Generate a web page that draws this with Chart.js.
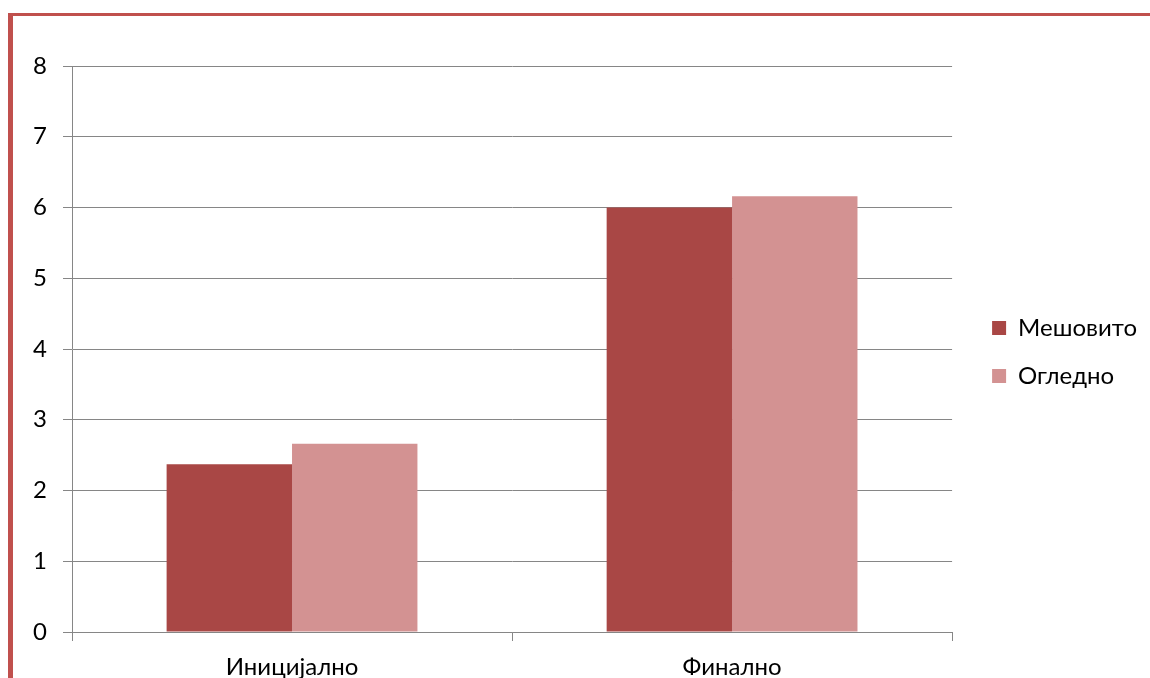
<!DOCTYPE html>
<html>
<head>
<meta charset="utf-8">
<script src="https://cdn.jsdelivr.net/npm/chart.js@4/dist/chart.umd.min.js"></script>
<style>
    html, body { margin: 0; padding: 0; background: #fff; overflow: hidden; }
    #frame {
        position: absolute; left: 8px; top: 13px;
        width: 1137px; height: 662px;
        border-left: 5px solid #c0504d;
        border-top: 3px solid #c0504d;
    }
    #chart { display: block; }
</style>
</head>
<body>
<div id="frame"><canvas id="chart" width="1137" height="662"></canvas></div>
<script>
// データ
const categories = ['Иницијално', 'Финално'];
const mixedValues = [2.37, 6.0];      // Мешовито
const modelValues = [2.66, 6.16];     // Огледно
const yTicks = [0, 1, 2, 3, 4, 5, 6, 7, 8];

const font = { family: 'Lato, "Noto Sans", sans-serif', size: 24 };
const gridColor = '#868686';

// 凡例の位置調整
const legendShift = {
    id: 'legendShift',
    afterLayout(chart) {
        const lg = chart.legend;
        lg.top -= 20;
        lg.bottom -= 20;
        lg.left += 16;
        lg.right += 16;
    }
};

new Chart(document.getElementById('chart').getContext('2d'), {
    type: 'bar',
    data: {
        labels: categories,
        datasets: [
            {
                label: 'Мешовито',
                data: mixedValues,
                backgroundColor: '#a94745',
                borderWidth: 0
            },
            {
                label: 'Огледно',
                data: modelValues,
                backgroundColor: '#d39292',
                borderWidth: 0
            }
        ]
    },
    options: {
        responsive: false,
        animation: false,
        categoryPercentage: 0.57,
        barPercentage: 1.0,
        layout: { padding: { top: 50, right: 19, bottom: 0, left: 0 } },
        plugins: {
            tooltip: { enabled: false },
            legend: {
                position: 'right',
                labels: {
                    color: '#000',
                    font: font,
                    boxWidth: 14,
                    boxHeight: 14,
                    padding: 24
                }
            }
        },
        scales: {
            y: {
                min: 0,
                max: 8,
                afterBuildTicks: (scale) => { scale.ticks = yTicks.map(v => ({ value: v })); },
                afterFit: (scale) => { scale.width = 59; },
                ticks: { color: '#000', font: font, padding: 16 },
                grid: { color: gridColor, lineWidth: 1, tickLength: 9 },
                border: { color: gridColor }
            },
            x: {
                ticks: { color: '#000', font: font, padding: 12 },
                grid: { offset: true, drawOnChartArea: false, color: gridColor, tickLength: 9 },
                border: { color: gridColor },
                afterFit: (scale) => { scale.height = 46; }
            }
        }
    },
    plugins: [legendShift]
});
</script>
</body>
</html>
